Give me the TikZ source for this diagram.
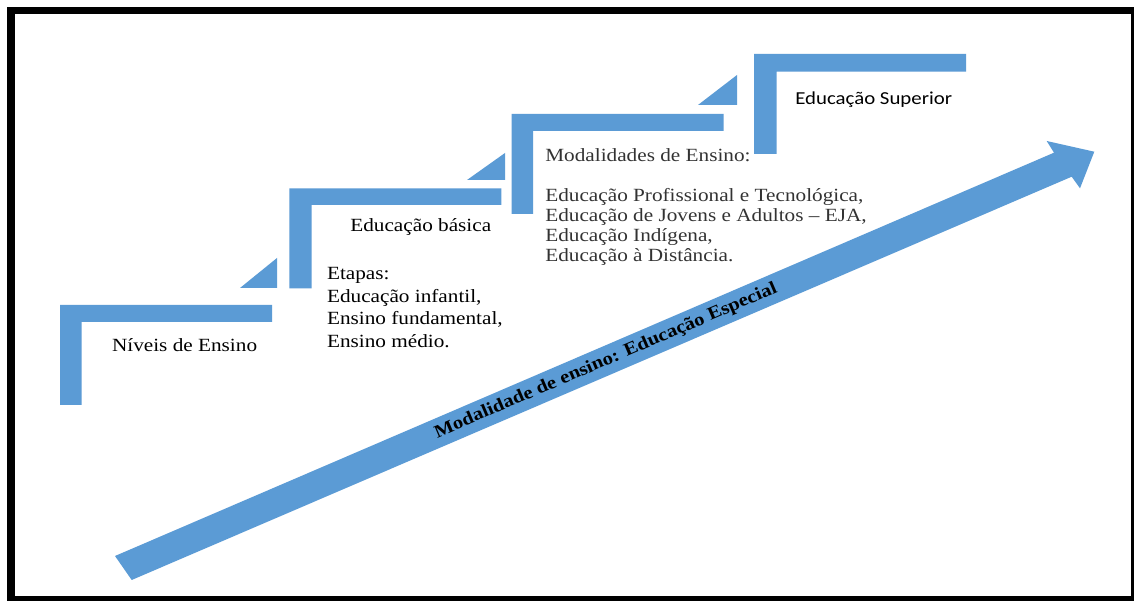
\documentclass[tikz,border=0pt]{standalone}
\usepackage{fontspec}
\setmainfont{Liberation Serif}[FakeStretch=1.14]
\newfontfamily\supfont{Carlito}[FakeStretch=1.14]
\definecolor{stairblue}{HTML}{5B9BD5}
\definecolor{softblack}{HTML}{333333}

\begin{document}
\begin{tikzpicture}[
    x=0.02cm, y=-0.02cm,
    stair/.style={fill=stairblue},
    level/.style={
      inner sep=0pt,
      anchor=base west,
      align=left,
      font=\fontsize{10.6pt}{12.9pt}\selectfont
    },
    modal/.style={
      level,
      text=softblack,
      font=\fontsize{10.6pt}{11.4pt}\selectfont
    }
  ]

  % page and frame
  \fill[white] (0,0) rectangle (1134,601);
  \fill[black] (7,7) rectangle (1134,601);
  \fill[white] (15,14.5) rectangle (1130.7,596);

  % the four steps: left, top, top of bar bottom
  \foreach \x/\y/\w/\h in {60/305/21.5/17, 289.3/188.3/22.4/16.7,
                           511.7/114/21.3/17, 754/54/22.7/17.7} {
    \fill[stair] (\x,\y) -| (\x+212,\y+\h) -| (\x+\w,\y+100) -| cycle;
  }

  % small wedges between the steps
  \foreach \a/\b/\lo/\hi in {240/277/288/258, 467/505/180/153, 698/737/105/75} {
    \fill[stair] (\a,\lo) -- (\b,\lo) -- (\b,\hi) -- cycle;
  }

  % long arrow
  \fill[stair] (115,556) -- (1054,152.7) -- (1046.7,141) -- (1094.3,151.7)
    -- (1080,188.3) -- (1071.7,176.7) -- (131.7,580) -- cycle;
  \coordinate (tail) at (123.4,568);
  \coordinate (tip) at (1094.3,151.7);
  \path (tail) -- (tip)
    node[pos=0.497, sloped, inner sep=0pt,
         font=\fontsize{10.3pt}{12pt}\selectfont\bfseries] (special)
    {Modalidade de ensino: Educação Especial};

  % texts on the steps (base = last line)
  \node[level] (niveis) at (111.7,351.7) {Níveis de Ensino};
  \node[level] (basica) at (350,231.7) {Educação básica};
  \node[level] (etapas) at (326.7,347.6)
    {Etapas:\\Educação infantil,\\Ensino fundamental,\\Ensino médio.};
  \node[modal] (modalidades) at (545,261.7)
    {Modalidades de Ensino:\\[11.4pt]Educação Profissional e Tecnológica,\\
     Educação de Jovens e Adultos – EJA,\\Educação Indígena,\\Educação à Distância.};
  \node[level, font=\fontsize{10.4pt}{12pt}\supfont] (superior) at (795,105)
    {Educação Superior};

\end{tikzpicture}
\end{document}
